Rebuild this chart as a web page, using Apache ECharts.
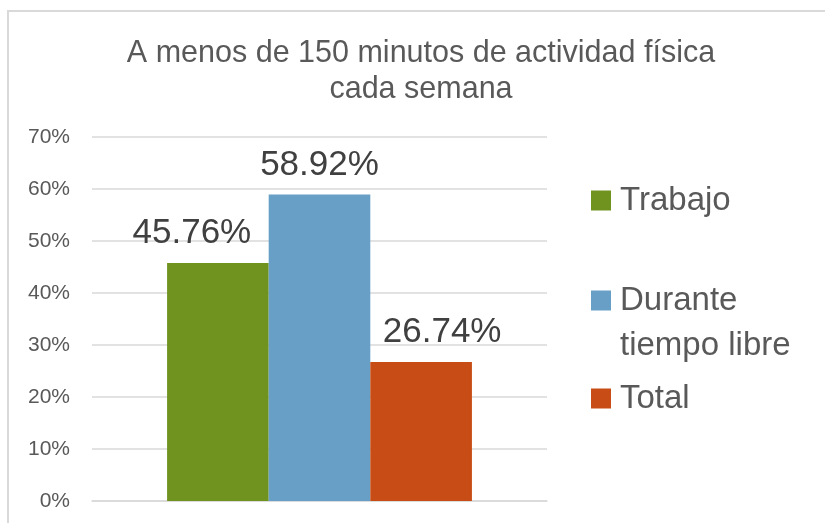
<!DOCTYPE html>
<html>
<head>
<meta charset="utf-8">
<script src="https://cdn.jsdelivr.net/npm/echarts@6/dist/echarts.min.js"></script>
<style>
  html, body { margin: 0; padding: 0; background: #fff; }
  #main { width: 825px; height: 523px; }
</style>
</head>
<body>
<div id="main"></div>
<script>
var categories = [''];
var seriesNames = ['Trabajo', 'Durante tiempo libre', 'Total'];
var trabajo = [45.76];
var tiempoLibre = [58.92];
var total = [26.74];
var yTicks = [0, 10, 20, 30, 40, 50, 60, 70];

var chartDom = document.getElementById('main');
var myChart = echarts.init(chartDom);
var option;

var fontFamily = 'Liberation Sans';

function barLabel(dx) {
  return {
    show: true,
    position: 'top',
    distance: 12,
    offset: [dx, 0],
    fontFamily: fontFamily,
    fontSize: 35,
    lineHeight: 35,
    color: '#404040',
    formatter: function (p) { return p.value.toFixed(2) + '%'; }
  };
}

// two-line legend entry: a blank first row keeps the icon level with "Durante"
function legendFor(name, top) {
  return {
    data: [name],
    left: 591,
    top: top,
    orient: 'vertical',
    padding: 0,
    itemWidth: 20,
    itemHeight: 20,
    icon: 'rect',
    selectedMode: false,
    formatter: function (n) {
      if (n === 'Durante tiempo libre') return '{p| }\n{a|Durante}\n{a|tiempo libre}';
      return '{a|' + n + '}';
    },
    textStyle: {
      fontFamily: fontFamily,
      fontSize: 33,
      color: '#595959',
      rich: {
        a: { fontFamily: fontFamily, fontSize: 33, lineHeight: 45, color: '#595959', padding: [0, 0, 0, 4] },
        p: { fontSize: 10, lineHeight: 45 }
      }
    }
  };
}

option = {
  animation: false,
  backgroundColor: '#fff',
  title: {
    text: 'A menos de 150 minutos de actividad física\ncada semana',
    left: 421,
    top: 36,
    padding: 0,
    textAlign: 'center',
    textStyle: {
      fontFamily: fontFamily,
      fontSize: 30.5,
      lineHeight: 36,
      fontWeight: 'normal',
      color: '#595959'
    }
  },
  legend: [
    legendFor(seriesNames[0], 184),
    legendFor(seriesNames[1], 250.5),
    legendFor(seriesNames[2], 382)
  ],
  grid: {
    left: 92,
    right: 278,
    top: 137,
    bottom: 22,
    containLabel: false
  },
  xAxis: {
    type: 'category',
    data: categories,
    axisLine: { lineStyle: { color: '#d9d9d9', width: 1.5 } },
    axisTick: { show: false },
    axisLabel: { show: false }
  },
  yAxis: {
    type: 'value',
    min: yTicks[0],
    max: yTicks[yTicks.length - 1],
    interval: 10,
    axisLine: { show: false },
    axisTick: { show: false },
    splitLine: { lineStyle: { color: '#d9d9d9', width: 1.5 } },
    axisLabel: {
      margin: 22,
      fontFamily: fontFamily,
      fontSize: 21,
      color: '#595959',
      formatter: '{value}%'
    }
  },
  graphic: [
    {
      type: 'rect',
      silent: true,
      shape: { x: 8, y: 11, width: 900, height: 600 },
      style: { fill: 'none', stroke: '#d9d9d9', lineWidth: 2 }
    }
  ],
  series: [
    {
      name: seriesNames[0],
      type: 'bar',
      data: trabajo,
      barGap: '0%',
      barCategoryGap: '33%',
      itemStyle: { color: '#70931f' },
      label: barLabel(-26)
    },
    {
      name: seriesNames[1],
      type: 'bar',
      data: tiempoLibre,
      barGap: '0%',
      barCategoryGap: '33%',
      itemStyle: { color: '#679fc7' },
      label: barLabel(0)
    },
    {
      name: seriesNames[2],
      type: 'bar',
      data: total,
      barGap: '0%',
      barCategoryGap: '33%',
      itemStyle: { color: '#c84c15' },
      label: barLabel(21)
    }
  ]
};

option && myChart.setOption(option);
</script>
</body>
</html>
